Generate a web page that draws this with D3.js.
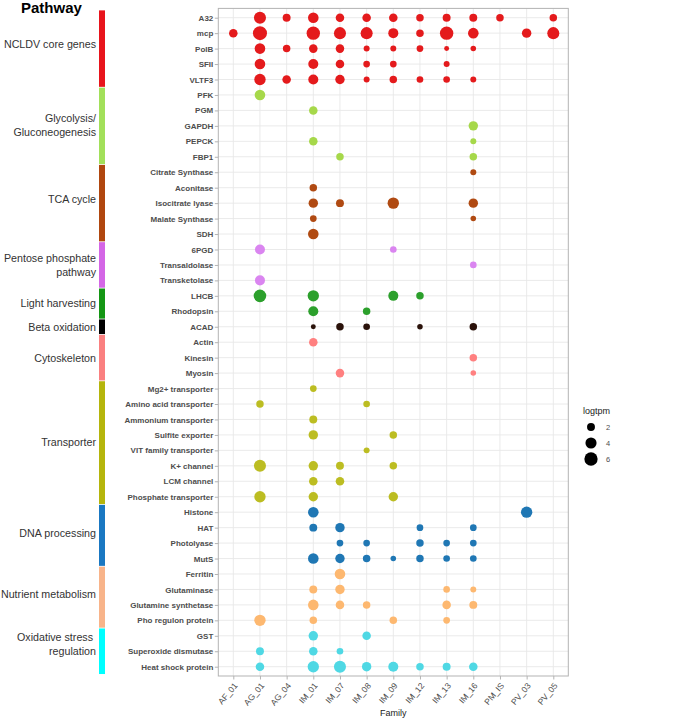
<!DOCTYPE html>
<html>
<head>
<meta charset="utf-8">
<script src="https://cdn.jsdelivr.net/npm/d3@7"></script>
<style>
  html, body { margin: 0; padding: 0; background: #fff; }
  svg { display: block; font-family: "Liberation Sans", Arial, sans-serif; }
</style>
</head>
<body>
<svg id="chart" width="696" height="719"></svg>
<script>
// ---------------- DATA ----------------
const families = ["AF_01","AG_01","AG_04","IM_01","IM_07","IM_08","IM_09","IM_12","IM_13","IM_16","PM_IS","PV_03","PV_05"];

const pathways = ["NCLDV core genes","Glycolysis/\nGluconeogenesis","TCA cycle","Pentose phosphate\npathway","Light harvesting","Beta oxidation","Cytoskeleton","Transporter","DNA processing","Nutrient metabolism","Oxidative stress \nregulation"];

const pathwayBarColors = ["#e8141c","#a2e05a","#b0470f","#d466e6","#149614","#000000","#fa8080","#b5b50c","#1a78c2","#f8b48a","#00ffff"];
const pathwayDotColors = ["#e41a1c","#a6d84a","#b04a12","#da85f0","#2ca02c","#2a120a","#ff8080","#bcbd22","#1f77b4","#fdb870","#4fd8e4"];

const genes = ["A32","mcp","PolB","SFII","VLTF3",
  "PFK","PGM","GAPDH","PEPCK","FBP1",
  "Citrate Synthase","Aconitase","Isocitrate lyase","Malate Synthase","SDH",
  "6PGD","Transaldolase","Transketolase",
  "LHCB","Rhodopsin",
  "ACAD",
  "Actin","Kinesin","Myosin",
  "Mg2+ transporter","Amino acid transporter","Ammonium transporter","Sulfite exporter","VIT family transporter","K+ channel","LCM channel","Phosphate transporter",
  "Histone","HAT","Photolyase","MutS",
  "Ferritin","Glutaminase","Glutamine synthetase","Pho regulon protein",
  "GST","Superoxide dismutase","Heat shock protein"];

const genePathway = [0,0,0,0,0, 1,1,1,1,1, 2,2,2,2,2, 3,3,3, 4,4, 5, 6,6,6, 7,7,7,7,7,7,7,7, 8,8,8,8, 9,9,9,9, 10,10,10];

const legendBreaks = [2, 4, 6];

// [gene, family, logtpm]
const logtpm = [
  ["A32","AG_01",4.8],["A32","AG_04",2.0],["A32","IM_01",3.6],["A32","IM_07",2.3],["A32","IM_08",2.3],["A32","IM_09",2.3],["A32","IM_12",1.8],["A32","IM_13",2.0],["A32","IM_16",2.0],["A32","PM_IS",1.8],["A32","PV_05",1.8],
  ["mcp","AF_01",2.3],["mcp","AG_01",6.8],["mcp","IM_01",6.1],["mcp","IM_07",4.8],["mcp","IM_08",4.8],["mcp","IM_09",3.2],["mcp","IM_12",1.8],["mcp","IM_13",6.1],["mcp","IM_16",3.6],["mcp","PV_03",2.8],["mcp","PV_05",4.8],
  ["PolB","AG_01",3.6],["PolB","AG_04",1.8],["PolB","IM_01",2.3],["PolB","IM_07",2.3],["PolB","IM_08",1.3],["PolB","IM_09",1.3],["PolB","IM_12",1.5],["PolB","IM_13",1.1],["PolB","IM_16",1.2],
  ["SFII","AG_01",3.6],["SFII","IM_01",3.2],["SFII","IM_07",2.3],["SFII","IM_08",1.5],["SFII","IM_09",1.5],["SFII","IM_13",1.3],
  ["VLTF3","AG_01",4.2],["VLTF3","AG_04",2.3],["VLTF3","IM_01",3.2],["VLTF3","IM_07",2.8],["VLTF3","IM_08",1.3],["VLTF3","IM_09",1.8],["VLTF3","IM_12",1.5],["VLTF3","IM_13",1.5],["VLTF3","IM_16",1.3],
  ["PFK","AG_01",3.6],
  ["PGM","IM_01",2.3],
  ["GAPDH","IM_16",2.8],
  ["PEPCK","IM_01",2.3],["PEPCK","IM_16",1.3],
  ["FBP1","IM_07",1.8],["FBP1","IM_16",1.8],
  ["Citrate Synthase","IM_16",1.3],
  ["Aconitase","IM_01",1.8],
  ["Isocitrate lyase","IM_01",2.8],["Isocitrate lyase","IM_07",2.0],["Isocitrate lyase","IM_09",4.2],["Isocitrate lyase","IM_16",2.8],
  ["Malate Synthase","IM_01",1.5],["Malate Synthase","IM_16",1.2],
  ["SDH","IM_01",3.6],
  ["6PGD","AG_01",3.2],["6PGD","IM_09",1.5],
  ["Transaldolase","IM_16",1.5],
  ["Transketolase","AG_01",3.2],
  ["LHCB","AG_01",5.3],["LHCB","IM_01",4.2],["LHCB","IM_09",3.2],["LHCB","IM_12",1.8],
  ["Rhodopsin","IM_01",3.2],["Rhodopsin","IM_08",1.8],
  ["ACAD","IM_01",1.1],["ACAD","IM_07",1.8],["ACAD","IM_08",1.5],["ACAD","IM_12",1.2],["ACAD","IM_16",1.8],
  ["Actin","IM_01",2.3],
  ["Kinesin","IM_16",1.8],
  ["Myosin","IM_07",2.3],["Myosin","IM_16",1.2],
  ["Mg2+ transporter","IM_01",1.5],
  ["Amino acid transporter","AG_01",1.8],["Amino acid transporter","IM_08",1.5],
  ["Ammonium transporter","IM_01",2.0],
  ["Sulfite exporter","IM_01",2.8],["Sulfite exporter","IM_09",1.8],
  ["VIT family transporter","IM_08",1.3],
  ["K+ channel","AG_01",4.8],["K+ channel","IM_01",2.8],["K+ channel","IM_07",2.0],["K+ channel","IM_09",1.8],
  ["LCM channel","IM_01",2.3],["LCM channel","IM_07",2.3],
  ["Phosphate transporter","AG_01",4.2],["Phosphate transporter","IM_01",2.8],["Phosphate transporter","IM_09",2.8],
  ["Histone","IM_01",3.6],["Histone","PV_03",4.2],
  ["HAT","IM_01",2.0],["HAT","IM_07",2.8],["HAT","IM_12",1.5],["HAT","IM_16",1.5],
  ["Photolyase","IM_07",1.5],["Photolyase","IM_08",1.5],["Photolyase","IM_12",1.8],["Photolyase","IM_13",1.5],["Photolyase","IM_16",1.5],
  ["MutS","IM_01",3.6],["MutS","IM_07",2.8],["MutS","IM_08",1.8],["MutS","IM_09",1.2],["MutS","IM_12",1.8],["MutS","IM_13",1.5],["MutS","IM_16",1.5],
  ["Ferritin","IM_07",3.6],
  ["Glutaminase","IM_01",2.0],["Glutaminase","IM_07",2.8],["Glutaminase","IM_13",1.5],["Glutaminase","IM_16",1.3],
  ["Glutamine synthetase","IM_01",3.6],["Glutamine synthetase","IM_07",2.3],["Glutamine synthetase","IM_08",1.8],["Glutamine synthetase","IM_13",2.3],["Glutamine synthetase","IM_16",2.0],
  ["Pho regulon protein","AG_01",4.2],["Pho regulon protein","IM_01",1.8],["Pho regulon protein","IM_09",1.8],["Pho regulon protein","IM_13",1.5],
  ["GST","IM_01",2.8],["GST","IM_08",2.3],
  ["Superoxide dismutase","AG_01",2.0],["Superoxide dismutase","IM_01",2.3],["Superoxide dismutase","IM_07",1.5],
  ["Heat shock protein","AG_01",2.3],["Heat shock protein","IM_01",4.2],["Heat shock protein","IM_07",4.8],["Heat shock protein","IM_08",2.8],["Heat shock protein","IM_09",3.2],["Heat shock protein","IM_12",1.8],["Heat shock protein","IM_13",2.0],["Heat shock protein","IM_16",2.3]
];

// ---------------- LAYOUT ----------------
const svg = d3.select("#chart");
const panel = {x0: 218.3, x1: 568.3, y0: 8.4, y1: 676};
const x = d3.scalePoint().domain(families).range([233.3, 553.3]);
const y = d3.scalePoint().domain(genes).range([17.7, 666.7]);
const step = y.step();
const sizeNorm = d3.scaleLinear().domain([1, 7.2]).range([0, 1]).clamp(true);
const rLin = d3.scaleLinear().domain([0, 1]).range([1.8, 7.2]);
const r = v => rLin(Math.sqrt(sizeNorm(v)));
const geneIndex = new Map(genes.map((g, i) => [g, i]));
// small vertical nudges of the sidebar labels (layout only)
const labelNudge = [-4.5, -1, -4, 0, 0, 0, 0, -1, -2, -3, -7];

// Grid
const grid = svg.append("g");
grid.selectAll("line.v").data(families).join("line")
  .attr("x1", d => x(d)).attr("x2", d => x(d))
  .attr("y1", panel.y0).attr("y2", panel.y1)
  .attr("stroke", "#e8e8e8").attr("stroke-width", 0.9);
grid.selectAll("line.h").data(genes).join("line")
  .attr("y1", d => y(d)).attr("y2", d => y(d))
  .attr("x1", panel.x0).attr("x2", panel.x1)
  .attr("stroke", "#e8e8e8").attr("stroke-width", 0.9);

// Points
svg.append("g").selectAll("circle").data(logtpm).join("circle")
  .attr("cx", d => x(d[1]))
  .attr("cy", d => y(d[0]))
  .attr("r", d => r(d[2]))
  .attr("fill", d => pathwayDotColors[genePathway[geneIndex.get(d[0])]]);

// Panel border
svg.append("rect")
  .attr("x", panel.x0).attr("y", panel.y0)
  .attr("width", panel.x1 - panel.x0).attr("height", panel.y1 - panel.y0)
  .attr("fill", "none").attr("stroke", "#b3b3b3").attr("stroke-width", 1);

// Y axis
const yAxis = svg.append("g").attr("transform", `translate(${panel.x0},0)`)
  .call(d3.axisLeft(y).tickSize(3.5).tickPadding(1.5));
yAxis.select(".domain").remove();
yAxis.selectAll(".tick line").attr("stroke", "#b3b3b3");
yAxis.selectAll(".tick text")
  .attr("fill", "#4d4d4d").attr("font-size", "8px").attr("font-weight", "bold")
  .attr("font-family", "Liberation Sans, Arial, sans-serif");

// X axis
const xAxis = svg.append("g").attr("transform", `translate(0,${panel.y1})`)
  .call(d3.axisBottom(x).tickSize(3.5));
xAxis.select(".domain").remove();
xAxis.selectAll(".tick line").attr("stroke", "#b3b3b3");
xAxis.selectAll(".tick text")
  .attr("fill", "#4d4d4d").attr("font-size", "8.5px")
  .attr("font-family", "Liberation Sans, Arial, sans-serif")
  .attr("text-anchor", "end").attr("dy", "0.35em").attr("y", 0).attr("x", 0)
  .attr("transform", "translate(2,8) rotate(-50)");

svg.append("text")
  .attr("x", (panel.x0 + panel.x1) / 2).attr("y", 716)
  .attr("text-anchor", "middle").attr("font-size", "9px").attr("fill", "#1a1a1a")
  .text("Family");

// Pathway sidebar
svg.append("text").attr("x", 21).attr("y", 12.5)
  .attr("font-size", "15px").attr("font-weight", "bold").attr("fill", "#000")
  .text("Pathway");

const groups = pathways.map((p, i) => {
  const idx = genePathway.map((g, j) => g === i ? j : -1).filter(j => j >= 0);
  return {label: p, i, first: genes[idx[0]], last: genes[idx[idx.length - 1]]};
});
const side = svg.append("g");
side.selectAll("rect").data(groups).join("rect")
  .attr("x", 99).attr("width", 6)
  .attr("y", d => y(d.first) - step / 2 + 0.4)
  .attr("height", d => y(d.last) - y(d.first) + step - 0.8)
  .attr("fill", d => pathwayBarColors[d.i]);

groups.forEach(d => {
  const lines = d.label.split("\n");
  const cy = (y(d.first) + y(d.last)) / 2 + labelNudge[d.i];
  const lh = 13.5;
  const t = side.append("text").attr("text-anchor", "end")
    .attr("font-size", "10.7px").attr("fill", "#333");
  lines.forEach((ln, k) => {
    t.append("tspan").attr("x", 96)
      .attr("y", cy + (k - (lines.length - 1) / 2) * lh + 3.9)
      .attr("xml:space", "preserve")
      .text(ln);
  });
});

// Legend
const leg = svg.append("g");
leg.append("text").attr("x", 583).attr("y", 414)
  .attr("font-size", "9px").attr("fill", "#1a1a1a").text("logtpm");
const keyY = d3.scalePoint().domain(legendBreaks).range([427, 459]);
leg.selectAll("circle").data(legendBreaks).join("circle")
  .attr("cx", 591).attr("cy", d => keyY(d)).attr("r", d => r(d)).attr("fill", "#000");
leg.selectAll("text.lab").data(legendBreaks).join("text")
  .attr("class", "lab")
  .attr("x", 606).attr("y", d => keyY(d) + 2.8)
  .attr("font-size", "7.5px").attr("fill", "#4d4d4d").text(d => d);
</script>
</body>
</html>
